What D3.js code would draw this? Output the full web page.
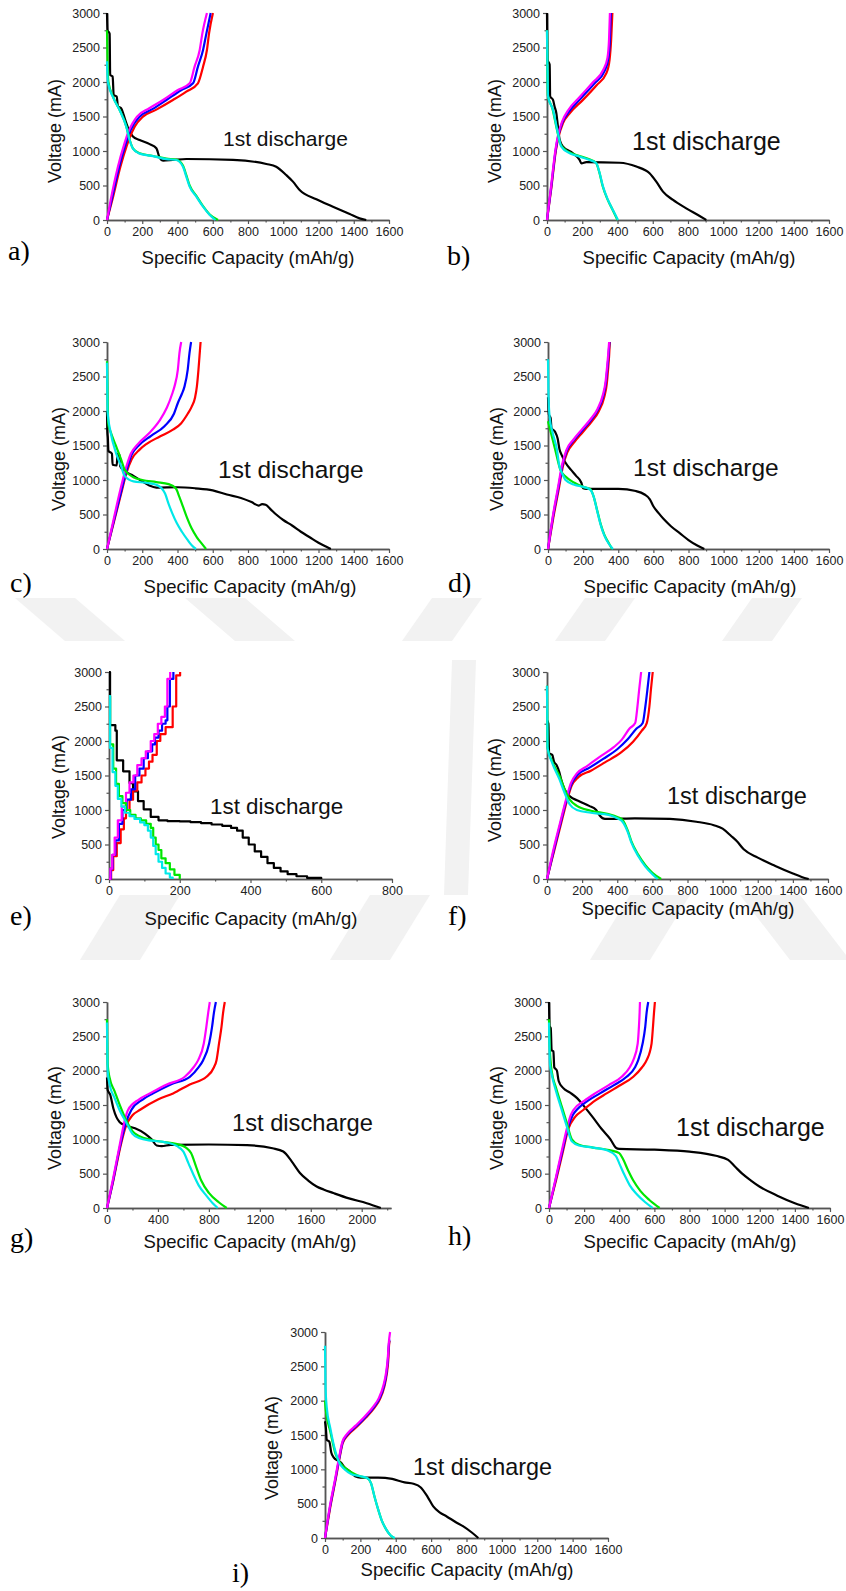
<!DOCTYPE html>
<html><head><meta charset="utf-8">
<script src="https://cdn.jsdelivr.net/npm/d3@7"></script>
<style>body{margin:0;background:#fff}svg{display:block}</style>
</head><body>
<svg id="chart" width="846" height="1591"></svg>
<script>
// ---------- tick labels ----------
const yTicks = [0,500,1000,1500,2000,2500,3000];
const yMinor = [250,750,1250,1750,2250,2750];
const xTicks1600 = [0,200,400,600,800,1000,1200,1400,1600];
const xMinor1600 = [100,300,500,700,900,1100,1300,1500];
const xTicks800 = [0,200,400,600,800];
const xMinor800 = [100,300,500,700];
const xTicks2200 = [0,400,800,1200,1600,2000];
const xMinor2200 = [200,600,1000,1400,1800,2200];
const panelLabels = ["a)","b)","c)","d)","e)","f)","g)","h)","i)"];
const xTitle = "Specific Capacity (mAh/g)";
const yTitle = "Voltage (mA)";
const note = "1st discharge";

// ---------- panel a ----------
const aBlack = [[0,3000],[3,2750],[15,2700],[18,2100],[32,2080],[38,1810],[55,1790],[62,1650],[80,1620],[95,1520],[110,1400],[125,1300],[147,1210],[185,1160],[242,1100],[280,1040],[299,900],[318,860],[374,870],[450,884],[715,870],[904,812],[960,773],[1017,652],[1055,556],[1093,435],[1188,300],[1282,193],[1377,87],[1433,24],[1471,0]];
const aGreen = [[0,2750],[3,2300],[8,2000],[34,1787],[72,1594],[110,1353],[129,1159],[147,1039],[185,966],[261,928],[337,890],[393,875],[431,790],[450,650],[469,500],[507,350],[545,200],[583,80],[630,0]];
const aCyan = [[0,2300],[5,2000],[34,1780],[72,1590],[110,1350],[129,1155],[147,1035],[185,962],[261,925],[337,882],[393,870],[431,773],[450,628],[469,483],[507,338],[545,193],[583,72],[615,0]];
const aRed = [[0,0],[30,290],[76,773],[110,1060],[130,1200],[157,1353],[204,1498],[280,1600],[374,1739],[450,1860],[516,1981],[545,2222],[567,2464],[579,2705],[601,3000]];
const aBlue = [[0,0],[27,300],[70,780],[105,1090],[125,1250],[150,1380],[185,1498],[260,1610],[337,1739],[420,1880],[488,1981],[516,2222],[545,2464],[564,2705],[588,3000]];
const aMagenta = [[0,0],[21,290],[62,773],[98,1100],[120,1270],[145,1400],[170,1498],[240,1620],[318,1739],[400,1880],[469,1981],[497,2222],[526,2464],[541,2705],[567,3000]];

// ---------- panel b ----------
const bBlack = [[0,3000],[3,2322],[15,2250],[18,1790],[34,1741],[43,1645],[53,1548],[62,1355],[72,1161],[91,1064],[147,968],[185,871],[195,822],[223,840],[412,830],[507,774],[582,677],[620,556],[658,411],[715,290],[790,169],[866,58],[904,0]];
const bGreen = [[0,2750],[5,1800],[30,1620],[58,1290],[78,1090],[120,990],[180,930],[240,880],[278,830],[297,690],[316,490],[344,295],[372,150],[400,0]];
const bCyan = [[0,2750],[6,1790],[34,1597],[62,1258],[81,1064],[129,968],[185,919],[242,871],[280,822],[299,677],[318,484],[346,290],[374,145],[403,0]];
const bRed = [[0,0],[25,470],[50,1000],[65,1200],[90,1400],[130,1550],[204,1741],[280,1950],[337,2129],[355,2322],[364,2612],[371,3000]];
const bBlue = [[0,0],[24,480],[49,1010],[63,1210],[88,1420],[125,1570],[195,1770],[270,1980],[325,2150],[348,2340],[357,2620],[362,3000]];
const bMagenta = [[0,0],[23,490],[48,1020],[62,1220],[86,1430],[120,1590],[188,1790],[262,2000],[318,2170],[343,2350],[352,2620],[357,3000]];

// ---------- panel c ----------
const cBlack = [[0,2000],[2,1700],[5,1600],[8,1420],[20,1400],[28,1380],[32,1220],[55,1210],[60,1380],[70,1380],[75,1200],[100,1130],[150,1060],[200,980],[240,920],[280,890],[400,895],[500,880],[600,850],[680,790],[760,740],[820,680],[860,630],[880,650],[900,640],[930,570],[960,500],[1000,420],[1050,340],[1100,250],[1150,170],[1200,90],[1250,25],[1270,0]];
const cGreen = [[0,2720],[4,2100],[8,1800],[20,1700],[50,1500],[80,1300],[100,1150],[150,1040],[200,1000],[280,970],[350,940],[390,880],[410,760],[430,620],[450,480],[480,300],[510,170],[540,70],[562,0]];
const cCyan = [[0,2700],[3,2000],[20,1700],[50,1400],[80,1200],[100,1060],[150,980],[220,960],[280,930],[310,880],[330,800],[350,650],[370,520],[395,380],[425,250],[455,140],[482,50],[505,0]];
const cRed = [[0,0],[40,400],[80,800],[110,1100],[140,1300],[185,1440],[223,1520],[300,1630],[374,1730],[420,1820],[458,1960],[480,2060],[500,2200],[510,2357],[519,2600],[525,2800],[531,3000]];
const cBlue = [[0,0],[40,420],[80,830],[110,1130],[140,1370],[180,1500],[250,1640],[326,1780],[380,1960],[402,2116],[425,2250],[440,2357],[458,2600],[468,2840],[477,3000]];
const cMagenta = [[0,0],[35,400],[75,850],[105,1150],[135,1380],[175,1520],[240,1680],[298,1860],[340,2050],[370,2250],[383,2357],[402,2600],[411,2840],[421,3000]];

// ---------- panel d ----------
const dBlack = [[0,2200],[5,1950],[15,1900],[20,1750],[40,1700],[55,1600],[65,1450],[80,1350],[100,1250],[130,1150],[160,1060],[190,960],[200,880],[220,870],[400,870],[500,840],[550,790],[580,720],[600,620],[630,520],[660,430],[700,330],[750,230],[800,130],[850,50],[890,0]];
const dGreen = [[0,1850],[15,1700],[40,1450],[70,1150],[100,1050],[150,960],[200,900],[240,870],[260,760],[280,560],[300,360],[320,210],[345,90],[365,0]];
const dCyan = [[0,2750],[3,2200],[10,1900],[25,1700],[50,1450],[65,1200],[80,1100],[100,1000],[150,930],[200,900],[240,860],[260,760],[280,550],[300,350],[320,200],[345,80],[370,0]];
const dRed = [[0,0],[30,450],[60,850],[85,1200],[110,1400],[150,1550],[200,1700],[250,1850],[290,2000],[320,2200],[335,2400],[342,2600],[348,2800],[352,3000]];
const dBlue = [[0,0],[28,460],[58,870],[82,1210],[106,1420],[145,1570],[195,1720],[245,1870],[285,2020],[315,2220],[330,2420],[338,2620],[345,2820],[350,3000]];
const dMagenta = [[0,0],[27,470],[56,880],[80,1220],[104,1430],[143,1580],[192,1730],[242,1880],[282,2030],[312,2230],[328,2430],[336,2630],[343,2830],[348,3000]];

// ---------- panel e (stepped) ----------
const eBlack = [[0,3000],[3,2230],[18,2150],[22,1720],[40,1560],[58,1390],[68,1270],[82,1130],[98,1010],[118,900],[140,850],[165,840],[200,835],[230,825],[260,810],[290,790],[320,770],[345,740],[362,700],[378,600],[395,500],[412,400],[430,320],[448,230],[466,160],[485,110],[505,70],[530,40],[560,15],[600,0]];
const eGreen = [[0,2650],[3,1950],[12,1600],[20,1380],[28,1200],[38,1100],[48,1000],[60,930],[75,880],[90,850],[105,800],[118,740],[125,600],[132,500],[140,420],[148,300],[160,230],[172,140],[185,60],[200,0]];
const eCyan = [[0,2650],[3,1900],[10,1550],[18,1350],[25,1160],[35,1050],[45,960],[58,910],[72,870],[88,820],[100,780],[110,700],[118,600],[125,480],[132,360],[140,250],[150,160],[160,80],[172,20],[180,0]];
const eRed = [[0,0],[6,130],[12,330],[22,520],[33,720],[42,880],[48,1000],[58,1150],[68,1280],[80,1400],[92,1500],[103,1600],[113,1700],[123,1800],[135,2000],[145,2100],[160,2200],[180,2230],[180,2500],[190,2500],[190,2950],[201,3000]];
const eBlue = [[0,0],[5,150],[10,350],[18,560],[28,800],[38,1000],[50,1150],[62,1300],[74,1500],[86,1600],[98,1750],[110,1850],[122,1950],[130,2050],[140,2150],[150,2250],[160,2300],[165,2500],[172,2900],[182,3000]];
const eMagenta = [[0,0],[4,150],[9,350],[16,600],[25,850],[36,1050],[48,1250],[58,1400],[69,1500],[80,1650],[92,1750],[104,1850],[118,2000],[128,2100],[138,2250],[148,2350],[158,2500],[165,2900],[173,3000]];

// ---------- panel f ----------
const fBlack = [[0,2300],[8,2250],[12,1820],[30,1800],[40,1700],[55,1650],[70,1550],[80,1450],[100,1300],[130,1200],[180,1130],[240,1060],[280,1000],[300,920],[330,870],[360,870],[500,880],[700,870],[850,830],[950,780],[1000,730],[1050,620],[1080,550],[1120,430],[1200,310],[1300,190],[1400,80],[1450,30],[1490,0]];
const fGreen = [[0,2800],[3,1900],[30,1700],[70,1500],[100,1300],[130,1150],[170,1060],[250,990],[350,940],[400,900],[430,860],[460,700],[480,550],[520,350],[560,200],[600,90],[650,0]];
const fCyan = [[0,2800],[3,1900],[30,1680],[70,1450],[100,1250],[130,1080],[170,1000],[250,960],[350,930],[400,880],[430,830],[460,680],[480,530],[520,330],[560,180],[600,70],[630,0]];
const fRed = [[0,0],[40,400],[80,800],[110,1100],[140,1350],[180,1480],[250,1570],[330,1690],[420,1830],[490,1990],[540,2150],[568,2260],[583,2500],[592,2750],[602,3000]];
const fBlue = [[0,0],[38,410],[78,820],[108,1120],[138,1370],[175,1510],[240,1610],[320,1740],[400,1880],[458,2020],[510,2180],[545,2260],[560,2500],[572,2750],[583,3000]];
const fMagenta = [[0,0],[36,420],[76,830],[106,1130],[136,1390],[170,1530],[230,1640],[300,1770],[380,1910],[426,2020],[470,2180],[502,2260],[515,2500],[525,2750],[536,3000]];

// ---------- panel g ----------
const gBlack = [[0,1900],[5,1720],[25,1650],[50,1450],[75,1320],[100,1250],[150,1200],[220,1160],[300,1080],[350,1000],[390,910],[430,900],[500,920],[800,925],[1100,915],[1300,870],[1384,822],[1450,680],[1515,510],[1580,400],[1646,314],[1700,270],[1777,218],[1900,140],[2039,70],[2150,0]];
const gGreen = [[0,2750],[5,2100],[20,1900],[60,1700],[100,1500],[150,1280],[200,1120],[250,1050],[350,990],[450,960],[550,930],[620,880],[660,800],[700,600],[740,400],[800,220],[880,80],[940,0]];
const gCyan = [[0,2700],[5,2000],[20,1800],[60,1600],[100,1420],[150,1250],[200,1080],[250,1020],[350,980],[450,960],[550,900],[600,820],[640,650],[680,480],[720,330],[780,180],[830,70],[870,0]];
const gRed = [[0,0],[50,400],[100,850],[150,1200],[200,1350],[257,1427],[400,1580],[519,1669],[650,1800],[781,1911],[840,2050],[860,2153],[880,2400],[899,2637],[912,2850],[925,3000]];
const gBlue = [[0,0],[50,420],[100,880],[150,1250],[191,1427],[280,1580],[362,1669],[500,1800],[650,1911],[720,2050],[755,2153],[802,2395],[825,2637],[840,2850],[855,3000]];
const gMagenta = [[0,0],[48,430],[98,900],[140,1280],[165,1427],[250,1580],[336,1669],[470,1800],[611,1911],[680,2050],[716,2153],[760,2395],[780,2637],[795,2850],[807,3000]];

// ---------- panel h ----------
const hBlack = [[0,3000],[3,2650],[10,2620],[15,2300],[25,2280],[30,2050],[45,2000],[55,1850],[80,1750],[120,1680],[160,1600],[200,1480],[250,1320],[300,1150],[350,1000],[380,880],[400,860],[600,850],[800,820],[950,760],[1020,700],[1060,600],[1100,500],[1150,400],[1200,310],[1300,180],[1400,70],[1480,0]];
const hGreen = [[0,2750],[5,2300],[15,2000],[40,1750],[70,1500],[100,1250],[130,1000],[170,920],[250,880],[350,840],[400,800],[420,720],[450,550],[480,400],[520,250],[570,120],[630,0]];
const hCyan = [[0,2700],[5,2100],[15,1950],[40,1700],[70,1450],[100,1200],[130,970],[170,910],[250,880],[330,840],[380,760],[400,650],[430,480],[460,330],[500,200],[550,80],[590,0]];
const hRed = [[0,0],[40,400],[80,830],[110,1150],[150,1330],[195,1427],[260,1560],[328,1669],[400,1780],[480,1911],[530,2050],[556,2153],[584,2395],[592,2637],[598,2850],[603,3000]];
const hBlue = [[0,0],[38,410],[78,850],[108,1170],[135,1350],[157,1427],[220,1560],[290,1669],[370,1790],[442,1911],[490,2050],[508,2153],[533,2395],[548,2637],[556,2850],[565,3000]];
const hMagenta = [[0,0],[37,420],[76,870],[105,1190],[125,1360],[139,1427],[200,1560],[262,1669],[340,1790],[414,1911],[460,2050],[480,2153],[505,2395],[512,2637],[516,2850],[518,3000]];

// ---------- panel i ----------
const iBlack = [[0,1700],[5,1600],[10,1430],[25,1400],[35,1250],[50,1170],[70,1130],[90,1100],[110,1030],[140,970],[170,900],[200,880],[300,880],[380,860],[450,810],[500,790],[540,740],[580,600],[612,460],[650,370],[688,314],[740,230],[782,169],[830,80],[867,0]];
const iGreen = [[0,2000],[5,1850],[30,1550],[60,1220],[90,1080],[130,990],[170,930],[210,890],[240,870],[260,800],[280,600],[300,420],[320,260],[345,130],[370,40],[390,0]];
const iCyan = [[0,2800],[3,2200],[10,1900],[30,1600],[60,1250],[80,1100],[110,1000],[150,930],[200,900],[240,870],[260,800],[280,600],[300,420],[320,260],[345,130],[370,40],[395,0]];
const iRed = [[0,0],[30,450],[60,850],[85,1200],[100,1380],[130,1500],[180,1620],[230,1750],[280,1900],[310,2020],[335,2200],[350,2400],[358,2600],[362,2800],[365,2870]];
const iBlue = [[0,0],[29,460],[59,860],[84,1210],[99,1390],[128,1510],[178,1630],[228,1760],[278,1910],[308,2030],[333,2210],[348,2410],[356,2610],[361,2810],[364,2890]];
const iMagenta = [[0,0],[28,470],[58,870],[83,1220],[98,1400],[126,1520],[175,1640],[225,1770],[275,1920],[305,2040],[330,2220],[346,2420],[355,2620],[360,2820],[368,3000]];

// ---------- layout ----------
const svg = d3.select("#chart");
const seriesColors = {black:"#000000", red:"#ff0000", blue:"#0000ff", magenta:"#ff00ff", green:"#00e600", cyan:"#00e8e8"};
const drawOrder = ["black","red","blue","magenta","green","cyan"];

// faint watermark fragments (background decoration)
const wm = [
  [[15,598],[75,598],[125,641],[65,641]],
  [[185,598],[245,598],[295,641],[235,641]],
  [[432,598],[482,598],[452,641],[402,641]],
  [[585,598],[635,598],[605,641],[555,641]],
  [[752,598],[802,598],[772,641],[722,641]],
  [[452,660],[476,660],[468,895],[444,895]],
  [[120,895],[180,895],[140,960],[80,960]],
  [[370,895],[430,895],[390,960],[330,960]],
  [[630,895],[690,895],[650,960],[590,960]],
  [[740,895],[800,895],[846,955],[846,960],[790,960]]
];
svg.append("g").selectAll("polygon").data(wm).join("polygon")
  .attr("points", d => d.map(p => p.join(",")).join(" "))
  .attr("fill", "#f2f2f2");

const panels = [
  {lab:0, s:{black:aBlack,green:aGreen,cyan:aCyan,red:aRed,blue:aBlue,magenta:aMagenta}, x0:107,x1:389,top:13,bot:220, xmax:1600, xt:xTicks1600, xm:xMinor1600, titleCX:248, titleY:264, labX:8, labY:260, ytX:55, ytY:131, nX:223, nY:146, nFs:21},
  {lab:1, s:{black:bBlack,green:bGreen,cyan:bCyan,red:bRed,blue:bBlue,magenta:bMagenta}, x0:547,x1:829,top:13,bot:220, xmax:1600, xt:xTicks1600, xm:xMinor1600, titleCX:689, titleY:264, labX:447, labY:265, ytX:495, ytY:131, nX:632, nY:150, nFs:25},
  {lab:2, s:{black:cBlack,green:cGreen,cyan:cCyan,red:cRed,blue:cBlue,magenta:cMagenta}, x0:107,x1:389,top:342,bot:549, xmax:1600, xt:xTicks1600, xm:xMinor1600, titleCX:250, titleY:593, labX:10, labY:592, ytX:59, ytY:459, nX:218, nY:478, nFs:24.5},
  {lab:3, s:{black:dBlack,green:dGreen,cyan:dCyan,red:dRed,blue:dBlue,magenta:dMagenta}, x0:548,x1:829,top:342,bot:549, xmax:1600, xt:xTicks1600, xm:xMinor1600, titleCX:690, titleY:593, labX:448, labY:592, ytX:497, ytY:459, nX:633, nY:476, nFs:24.5},
  {lab:4, step:true, s:{black:eBlack,green:eGreen,cyan:eCyan,red:eRed,blue:eBlue,magenta:eMagenta}, x0:109,x1:392,top:672,bot:879, xmax:800, xt:xTicks800, xm:xMinor800, titleCX:251, titleY:925, labX:10, labY:925, ytX:59, ytY:787, nX:210, nY:814, nFs:22.4},
  {lab:5, s:{black:fBlack,green:fGreen,cyan:fCyan,red:fRed,blue:fBlue,magenta:fMagenta}, x0:547,x1:828,top:672,bot:879, xmax:1600, xt:xTicks1600, xm:xMinor1600, titleCX:688, titleY:915, labX:448, labY:925, ytX:495, ytY:790, nX:667, nY:804, nFs:23.5},
  {lab:6, s:{black:gBlack,green:gGreen,cyan:gCyan,red:gRed,blue:gBlue,magenta:gMagenta}, x0:107,x1:391,top:1002,bot:1208, xmax:2230, xt:xTicks2200, xm:xMinor2200, titleCX:250, titleY:1248, labX:10, labY:1247, ytX:55, ytY:1118, nX:232, nY:1131, nFs:23.7},
  {lab:7, s:{black:hBlack,green:hGreen,cyan:hCyan,red:hRed,blue:hBlue,magenta:hMagenta}, x0:549,x1:830,top:1002,bot:1208, xmax:1600, xt:xTicks1600, xm:xMinor1600, titleCX:690, titleY:1248, labX:448, labY:1245, ytX:497, ytY:1118, nX:676, nY:1136, nFs:25},
  {lab:8, s:{black:iBlack,green:iGreen,cyan:iCyan,red:iRed,blue:iBlue,magenta:iMagenta}, x0:325,x1:608,top:1332,bot:1538, xmax:1600, xt:xTicks1600, xm:xMinor1600, titleCX:467, titleY:1576, labX:232, labY:1582, ytX:272, ytY:1448, nX:413, nY:1475, nFs:23.4}
];

const sans = "'Liberation Sans', Arial, sans-serif";
const serif = "'Liberation Serif', 'Times New Roman', serif";
const fmt = d3.format("d");

panels.forEach(p => {
  const x = d3.scaleLinear().domain([0, p.xmax]).range([p.x0, p.x1]);
  const y = d3.scaleLinear().domain([0, 3000]).range([p.bot, p.top]);
  const g = svg.append("g");

  g.append("g").attr("transform", `translate(0,${p.bot})`)
    .call(d3.axisBottom(x).tickValues(p.xt).tickFormat(fmt).tickSize(4).tickSizeOuter(0).tickPadding(3));
  g.append("g").attr("transform", `translate(0,${p.bot})`)
    .call(d3.axisBottom(x).tickValues(p.xm).tickSize(2.5).tickSizeOuter(0).tickFormat(""));
  g.append("g").attr("transform", `translate(${p.x0},0)`)
    .call(d3.axisLeft(y).tickValues(yTicks).tickFormat(fmt).tickSize(4).tickSizeOuter(0).tickPadding(3));
  g.append("g").attr("transform", `translate(${p.x0},0)`)
    .call(d3.axisLeft(y).tickValues(yMinor).tickSize(2.5).tickSizeOuter(0).tickFormat(""));
  g.selectAll(".domain").attr("stroke", "#555").attr("stroke-width", 1.5);
  g.selectAll(".tick line").attr("stroke", "#555").attr("stroke-width", 1.2);
  g.selectAll(".tick text").attr("font-family", sans).attr("font-size", 12.5).attr("fill", "#222");

  const line = d3.line().x(d => x(d[0])).y(d => y(d[1]))
    .curve(p.step ? d3.curveStepAfter : d3.curveMonotoneX);
  drawOrder.forEach(k => {
    g.append("path").datum(p.s[k])
      .attr("d", line)
      .attr("fill", "none")
      .attr("stroke", seriesColors[k])
      .attr("stroke-width", 2.2)
      .attr("stroke-linejoin", "round");
  });

  g.append("text").attr("x", p.titleCX).attr("y", p.titleY)
    .attr("text-anchor", "middle").attr("font-family", sans).attr("font-size", 18.5).attr("fill", "#111")
    .text(xTitle);
  g.append("text").attr("transform", `translate(${p.ytX},${p.ytY}) rotate(-90)`)
    .attr("text-anchor", "middle").attr("dy", "0.35em").attr("font-family", sans).attr("font-size", 18).attr("fill", "#111")
    .text(yTitle);
  g.append("text").attr("x", p.nX).attr("y", p.nY)
    .attr("font-family", sans).attr("font-size", p.nFs).attr("fill", "#111")
    .text(note);
  g.append("text").attr("x", p.labX).attr("y", p.labY)
    .attr("font-family", serif).attr("font-size", 28).attr("fill", "#000")
    .text(panelLabels[p.lab]);
});
</script>
</body></html>
